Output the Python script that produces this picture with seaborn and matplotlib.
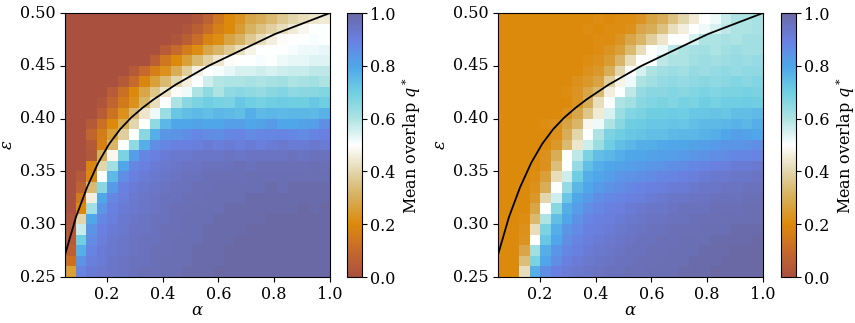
import numpy as np
import pandas as pd
import matplotlib
matplotlib.use("Agg")
import matplotlib.pyplot as plt
import seaborn as sns
from matplotlib.colors import LinearSegmentedColormap

plt.rcParams['font.family'] = ['DejaVu Serif']
plt.rcParams['mathtext.fontset'] = 'dejavuserif'
plt.rcParams['font.size'] = 11.5

# grid of the phase diagram
alpha_grid = [0.05, 0.0896, 0.1292, 0.1688, 0.2083, 0.2479, 0.2875, 0.3271, 0.3667,
              0.4062, 0.4458, 0.4854, 0.525, 0.5646, 0.6042, 0.6438, 0.6833, 0.7229,
              0.7625, 0.8021, 0.8417, 0.8812, 0.9208, 0.9604, 1.0]
eps_rows = [0.495, 0.485, 0.475, 0.465, 0.455, 0.445, 0.435, 0.425, 0.415, 0.405,
            0.395, 0.385, 0.375, 0.365, 0.355, 0.345, 0.335, 0.325, 0.315, 0.305,
            0.295, 0.285, 0.275, 0.265, 0.255]

# critical line
curve_eps = [0.271, 0.307, 0.335, 0.358, 0.376, 0.390, 0.401, 0.410, 0.418, 0.425,
             0.432, 0.438, 0.444, 0.450, 0.455, 0.460, 0.465, 0.470, 0.475, 0.480,
             0.484, 0.488, 0.492, 0.496, 0.500]

# mean overlap, left panel (rows from eps=0.50 down to 0.25)
q_left = [
    [0,0,0,0,0,0,0,0,0,0,0,0,0.02,0.07,0.14,0.2,0.23,0.28,0.3,0.33,0.37,0.4,0.42,0.44,0.45],
    [0,0,0,0,0,0,0,0,0,0,0,0.02,0.06,0.11,0.17,0.2,0.25,0.31,0.35,0.39,0.42,0.45,0.48,0.5,0.5],
    [0,0,0,0,0,0,0,0,0,0,0.02,0.06,0.11,0.18,0.21,0.27,0.31,0.37,0.42,0.46,0.49,0.5,0.5,0.51,0.5],
    [0,0,0,0,0,0,0,0,0,0.05,0.1,0.16,0.21,0.28,0.32,0.37,0.42,0.47,0.5,0.5,0.5,0.51,0.52,0.52,0.53],
    [0,0,0,0,0,0,0,0,0.06,0.14,0.2,0.26,0.33,0.39,0.44,0.49,0.5,0.5,0.51,0.5,0.52,0.53,0.53,0.54,0.54],
    [0,0,0,0,0,0,0.04,0.1,0.17,0.22,0.3,0.38,0.46,0.5,0.51,0.53,0.55,0.55,0.56,0.55,0.56,0.57,0.57,0.58,0.58],
    [0,0,0,0,0,0.04,0.1,0.19,0.26,0.33,0.4,0.46,0.5,0.56,0.59,0.6,0.6,0.61,0.6,0.61,0.62,0.6,0.61,0.62,0.6],
    [0,0,0,0,0.05,0.12,0.2,0.28,0.36,0.43,0.49,0.52,0.6,0.65,0.6,0.65,0.66,0.65,0.64,0.66,0.67,0.65,0.66,0.66,0.67],
    [0,0,0,0.02,0.08,0.15,0.22,0.32,0.42,0.5,0.6,0.66,0.68,0.7,0.69,0.68,0.72,0.7,0.69,0.7,0.71,0.7,0.7,0.72,0.7],
    [0,0,0,0.05,0.13,0.22,0.33,0.44,0.52,0.63,0.72,0.74,0.75,0.74,0.76,0.75,0.74,0.78,0.75,0.76,0.75,0.76,0.76,0.75,0.77],
    [0,0,0.04,0.12,0.2,0.3,0.4,0.5,0.65,0.76,0.8,0.8,0.81,0.8,0.8,0.82,0.82,0.8,0.81,0.83,0.8,0.8,0.81,0.82,0.86],
    [0,0,0.08,0.16,0.26,0.38,0.5,0.66,0.78,0.84,0.85,0.86,0.88,0.87,0.86,0.88,0.89,0.87,0.88,0.88,0.89,0.88,0.87,0.89,0.9],
    [0,0,0.04,0.17,0.32,0.5,0.65,0.78,0.86,0.88,0.9,0.9,0.91,0.92,0.91,0.92,0.91,0.92,0.91,0.92,0.93,0.92,0.92,0.93,0.92],
    [0,0,0.03,0.3,0.48,0.68,0.82,0.88,0.9,0.92,0.93,0.93,0.94,0.94,0.94,0.95,0.94,0.95,0.95,0.95,0.95,0.96,0.95,0.96,0.96],
    [0,0,0.18,0.4,0.62,0.8,0.88,0.9,0.92,0.93,0.94,0.95,0.95,0.96,0.96,0.96,0.97,0.96,0.97,0.97,0.97,0.97,0.97,0.98,0.97],
    [0,0.04,0.2,0.5,0.75,0.86,0.9,0.92,0.93,0.94,0.95,0.96,0.96,0.97,0.97,0.97,0.97,0.98,0.98,0.98,0.98,0.98,0.98,0.98,0.98],
    [0,0.07,0.33,0.66,0.83,0.9,0.92,0.93,0.94,0.95,0.96,0.96,0.97,0.97,0.98,0.98,0.98,0.98,0.98,0.99,0.98,0.99,0.99,0.99,0.99],
    [0,0.15,0.46,0.8,0.88,0.91,0.93,0.94,0.95,0.96,0.96,0.97,0.97,0.98,0.98,0.98,0.98,0.99,0.99,0.99,0.99,0.99,0.99,0.99,0.99],
    [0,0.2,0.62,0.84,0.9,0.92,0.93,0.94,0.95,0.96,0.97,0.97,0.98,0.98,0.98,0.99,0.99,0.99,0.99,0.99,0.99,0.99,1.0,0.99,1.0],
    [0.02,0.4,0.8,0.88,0.91,0.93,0.94,0.95,0.96,0.96,0.97,0.98,0.98,0.98,0.99,0.99,0.99,0.99,0.99,1.0,1.0,1.0,1.0,1.0,1.0],
    [0.03,0.57,0.85,0.9,0.92,0.93,0.95,0.95,0.96,0.97,0.97,0.98,0.98,0.99,0.99,0.99,0.99,1.0,1.0,1.0,1.0,1.0,1.0,1.0,1.0],
    [0.04,0.7,0.87,0.91,0.93,0.94,0.95,0.96,0.96,0.97,0.98,0.98,0.98,0.99,0.99,0.99,1.0,1.0,1.0,1.0,1.0,1.0,1.0,1.0,1.0],
    [0.06,0.78,0.89,0.92,0.93,0.94,0.95,0.96,0.97,0.97,0.98,0.98,0.99,0.99,0.99,1.0,1.0,1.0,1.0,1.0,1.0,1.0,1.0,1.0,1.0],
    [0.12,0.85,0.91,0.92,0.94,0.95,0.96,0.96,0.97,0.98,0.98,0.98,0.99,0.99,0.99,1.0,1.0,1.0,1.0,1.0,1.0,1.0,1.0,1.0,1.0],
    [0.26,0.89,0.92,0.93,0.94,0.95,0.96,0.97,0.97,0.98,0.98,0.99,0.99,0.99,1.0,1.0,1.0,1.0,1.0,1.0,1.0,1.0,1.0,1.0,1.0],
]

# mean overlap, right panel
q_right = [
    [0.2,0.2,0.2,0.2,0.2,0.2,0.2,0.2,0.2,0.21,0.2,0.21,0.21,0.23,0.27,0.3,0.35,0.4,0.45,0.5,0.52,0.57,0.6,0.6,0.61],
    [0.2,0.2,0.2,0.2,0.2,0.2,0.2,0.2,0.21,0.2,0.21,0.21,0.22,0.28,0.3,0.35,0.42,0.46,0.5,0.52,0.55,0.58,0.6,0.6,0.61],
    [0.2,0.2,0.2,0.2,0.2,0.2,0.2,0.2,0.2,0.21,0.21,0.23,0.28,0.32,0.38,0.44,0.5,0.5,0.55,0.6,0.6,0.61,0.6,0.62,0.62],
    [0.2,0.2,0.2,0.2,0.2,0.2,0.2,0.2,0.2,0.21,0.23,0.26,0.33,0.42,0.5,0.52,0.58,0.6,0.61,0.62,0.6,0.62,0.63,0.62,0.62],
    [0.2,0.2,0.2,0.2,0.2,0.2,0.2,0.2,0.21,0.22,0.25,0.32,0.42,0.5,0.5,0.58,0.6,0.6,0.62,0.63,0.62,0.63,0.64,0.63,0.64],
    [0.2,0.2,0.2,0.2,0.2,0.2,0.2,0.2,0.22,0.24,0.3,0.4,0.5,0.55,0.6,0.62,0.63,0.62,0.64,0.63,0.64,0.65,0.64,0.65,0.65],
    [0.2,0.2,0.2,0.2,0.2,0.2,0.2,0.22,0.24,0.27,0.38,0.47,0.52,0.6,0.62,0.64,0.65,0.64,0.65,0.66,0.65,0.66,0.67,0.66,0.67],
    [0.2,0.2,0.2,0.2,0.2,0.2,0.21,0.23,0.28,0.33,0.46,0.5,0.58,0.64,0.66,0.66,0.67,0.66,0.67,0.68,0.67,0.68,0.68,0.69,0.68],
    [0.2,0.2,0.2,0.2,0.2,0.2,0.2,0.23,0.3,0.42,0.5,0.6,0.62,0.66,0.67,0.68,0.67,0.69,0.68,0.7,0.69,0.7,0.7,0.71,0.7],
    [0.2,0.2,0.2,0.2,0.2,0.2,0.22,0.28,0.36,0.45,0.55,0.63,0.67,0.68,0.7,0.7,0.71,0.7,0.72,0.72,0.73,0.72,0.74,0.74,0.75],
    [0.2,0.2,0.2,0.2,0.21,0.22,0.27,0.32,0.48,0.52,0.6,0.66,0.7,0.71,0.72,0.72,0.73,0.72,0.74,0.75,0.75,0.76,0.77,0.76,0.78],
    [0.2,0.2,0.2,0.2,0.2,0.22,0.3,0.4,0.5,0.6,0.68,0.7,0.72,0.73,0.74,0.74,0.75,0.76,0.76,0.77,0.78,0.8,0.82,0.81,0.8],
    [0.2,0.2,0.2,0.2,0.2,0.24,0.33,0.44,0.56,0.63,0.7,0.74,0.76,0.78,0.78,0.79,0.8,0.8,0.81,0.82,0.83,0.84,0.84,0.85,0.86],
    [0.2,0.2,0.2,0.2,0.22,0.3,0.5,0.58,0.68,0.74,0.76,0.78,0.8,0.8,0.81,0.82,0.82,0.83,0.84,0.85,0.86,0.87,0.88,0.88,0.89],
    [0.2,0.2,0.2,0.2,0.22,0.34,0.5,0.64,0.74,0.78,0.8,0.81,0.82,0.83,0.84,0.85,0.86,0.87,0.88,0.89,0.9,0.91,0.92,0.92,0.93],
    [0.2,0.2,0.2,0.21,0.26,0.42,0.56,0.7,0.78,0.8,0.82,0.84,0.85,0.86,0.87,0.88,0.89,0.9,0.91,0.92,0.93,0.93,0.94,0.94,0.95],
    [0.2,0.2,0.2,0.22,0.3,0.5,0.64,0.76,0.8,0.83,0.85,0.86,0.88,0.89,0.9,0.91,0.92,0.92,0.93,0.94,0.94,0.95,0.95,0.96,0.96],
    [0.2,0.2,0.2,0.24,0.4,0.56,0.72,0.8,0.83,0.86,0.88,0.89,0.9,0.91,0.92,0.93,0.94,0.94,0.95,0.95,0.96,0.96,0.96,0.97,0.97],
    [0.2,0.2,0.2,0.28,0.5,0.66,0.78,0.82,0.86,0.88,0.9,0.91,0.92,0.93,0.94,0.94,0.95,0.96,0.96,0.96,0.97,0.97,0.97,0.98,0.98],
    [0.2,0.2,0.21,0.33,0.6,0.74,0.8,0.85,0.88,0.9,0.91,0.92,0.93,0.94,0.95,0.95,0.96,0.96,0.97,0.97,0.97,0.98,0.98,0.98,0.98],
    [0.2,0.2,0.22,0.42,0.68,0.78,0.84,0.87,0.9,0.91,0.92,0.93,0.94,0.95,0.96,0.96,0.97,0.97,0.97,0.98,0.98,0.98,0.99,0.99,0.99],
    [0.2,0.2,0.23,0.5,0.72,0.8,0.86,0.89,0.91,0.92,0.93,0.94,0.95,0.96,0.96,0.97,0.97,0.98,0.98,0.98,0.99,0.99,0.99,0.99,1.0],
    [0.2,0.2,0.28,0.62,0.78,0.84,0.88,0.9,0.92,0.93,0.94,0.95,0.96,0.96,0.97,0.97,0.98,0.98,0.98,0.99,0.99,0.99,1.0,1.0,1.0],
    [0.2,0.2,0.34,0.68,0.8,0.86,0.9,0.92,0.93,0.94,0.95,0.96,0.96,0.97,0.97,0.98,0.98,0.98,0.99,0.99,0.99,1.0,1.0,1.0,1.0],
    [0.2,0.2,0.42,0.78,0.86,0.9,0.92,0.93,0.94,0.95,0.96,0.96,0.97,0.97,0.98,0.98,0.98,0.99,0.99,0.99,1.0,1.0,1.0,1.0,1.0],
]

x_ticks = [0.2, 0.4, 0.6, 0.8, 1.0]
y_ticks = [0.25, 0.30, 0.35, 0.40, 0.45, 0.50]
cbar_ticks = [0.0, 0.2, 0.4, 0.6, 0.8, 1.0]

cmap = LinearSegmentedColormap.from_list("overlap", [
    (0.0, "#a9503f"), (0.1, "#c66a2c"), (0.2, "#dc8a0c"), (0.3, "#d7ae58"),
    (0.4, "#e2d6ac"), (0.5, "#ffffff"), (0.6, "#aee3e3"), (0.7, "#70cfe2"),
    (0.8, "#4fa6e9"), (0.9, "#6a80e2"), (1.0, "#6a69a6")])

n = len(alpha_grid)
a0, a1 = alpha_grid[0], alpha_grid[-1]
e0, e1 = 0.25, 0.50


def to_x(a):
    return (np.asarray(a) - a0) / (a1 - a0) * n


def to_y(e):
    return (e1 - np.asarray(e)) / (e1 - e0) * len(eps_rows)


fig = plt.figure(figsize=(8.55, 3.23), dpi=100)
W, H = 855, 323
panels = [(q_left, 65, 347), (q_right, 498, 781)]

for q, xl, xc in panels:
    ax = fig.add_axes([xl / W, 46 / H, 265 / W, 264 / H])
    cax = fig.add_axes([xc / W, 46 / H, 15 / W, 264 / H])
    df = pd.DataFrame(q, index=eps_rows, columns=alpha_grid)
    sns.heatmap(df, ax=ax, cbar_ax=cax, cmap=cmap, vmin=0, vmax=1)
    ax.plot(to_x(alpha_grid), to_y(curve_eps), color="black", lw=1.3)

    ax.set_xticks(to_x(x_ticks))
    ax.set_xticklabels([f"{t:.1f}" for t in x_ticks], rotation=0)
    ax.set_yticks(to_y(y_ticks))
    ax.set_yticklabels([f"{t:.2f}" for t in y_ticks], rotation=0)
    ax.tick_params(length=3.5, width=0.8, labelsize=11.5, pad=3)
    ax.set_xlabel(r"$\alpha$", fontsize=12, labelpad=-1)
    ax.set_ylabel(r"$\varepsilon$", fontsize=12, labelpad=3)
    for s in ax.spines.values():
        s.set_visible(True)
        s.set_linewidth(0.8)

    cb = ax.collections[0].colorbar
    cb.set_ticks(cbar_ticks)
    cb.set_ticklabels([f"{t:.1f}" for t in cbar_ticks])
    cb.outline.set_visible(True)
    cb.outline.set_linewidth(0.8)
    cb.ax.tick_params(length=3.5, width=0.8, labelsize=11.5, pad=2)
    cb.set_label(r"Mean overlap $q^*$", fontsize=11.5, labelpad=3)

fig.savefig("out.png", dpi=100)
